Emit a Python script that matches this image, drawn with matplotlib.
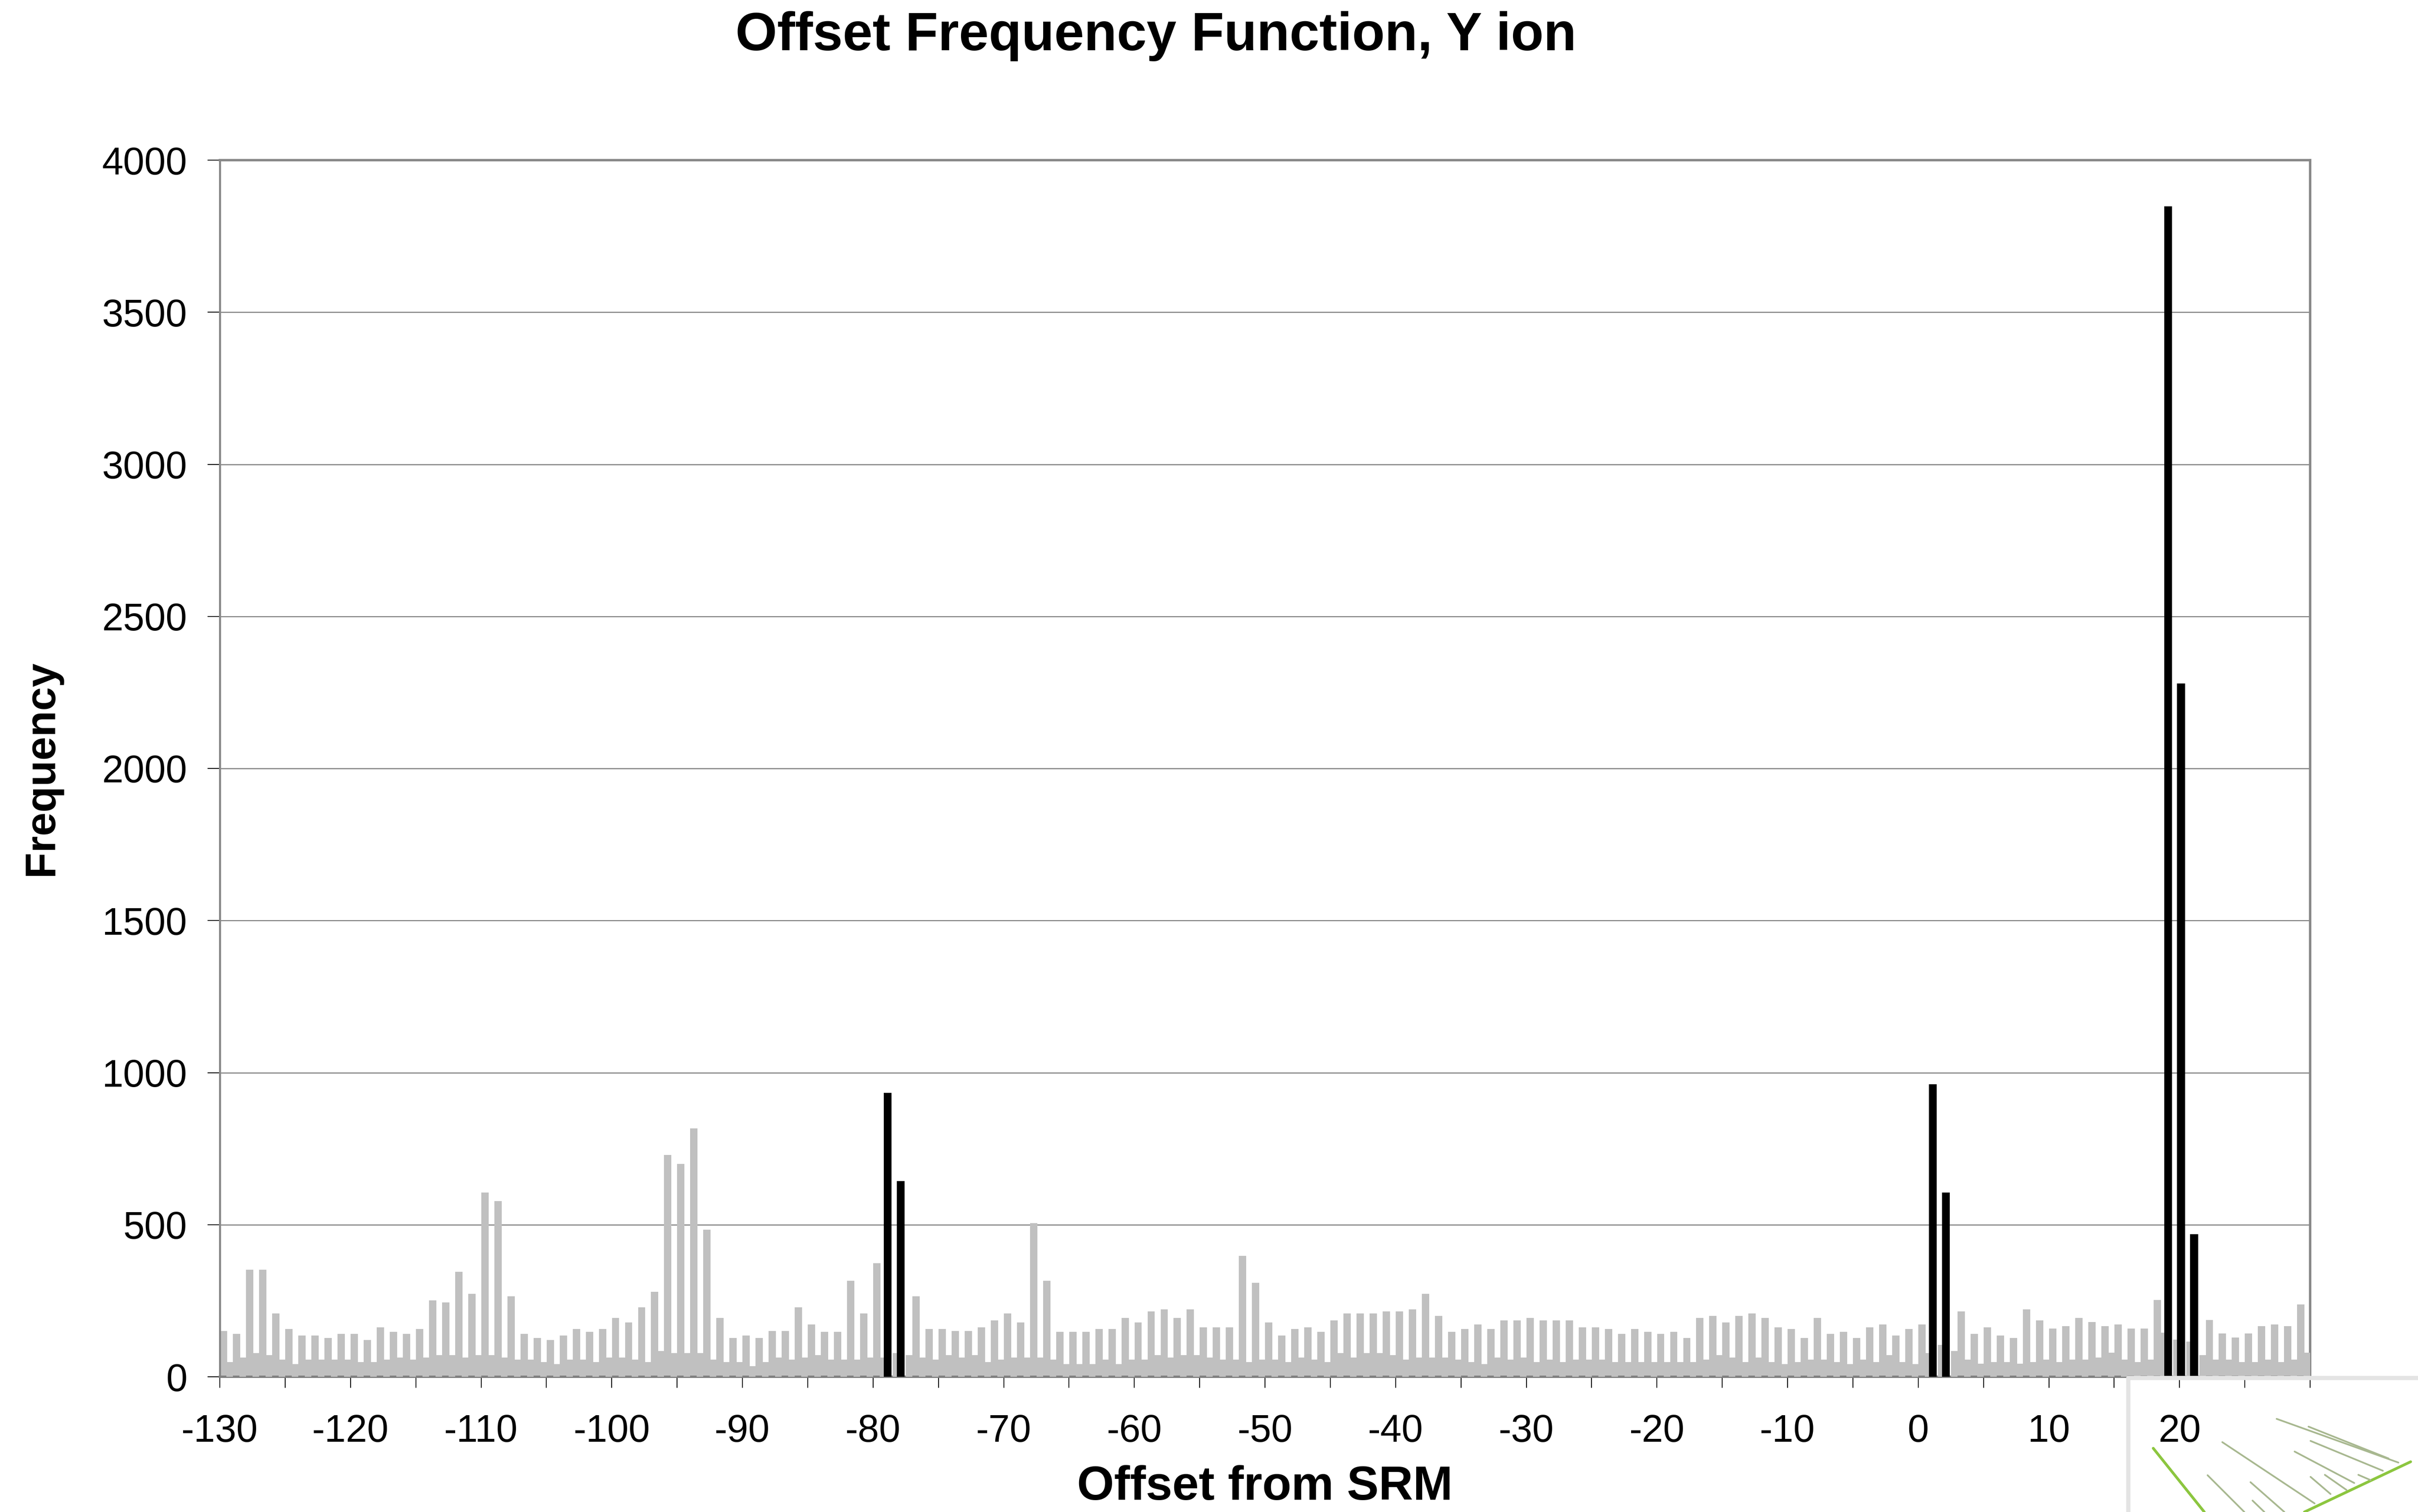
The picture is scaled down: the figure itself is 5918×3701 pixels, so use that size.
import numpy as np
import matplotlib
matplotlib.use("Agg")
import matplotlib.pyplot as plt
from matplotlib.lines import Line2D

plt.rcParams['font.family'] = ['Liberation Sans', 'DejaVu Sans']

# ---------------------------------------------------------------------------
# data
# ---------------------------------------------------------------------------
offsets = list(range(-130, 30))

# observed frequency for each offset
observed = [
    150, 141, 352, 352, 208, 157, 135, 135, 128, 141, 141, 121, 163, 148, 141, 157,
    251, 244, 345, 273, 606, 578, 265, 141, 128, 121, 135, 157, 148, 157, 193, 179,
    229, 279, 730, 700, 816,
    483, 193, 128, 135, 128, 150, 150, 229, 172, 148, 148, 316, 208, 374, 933, 644,
    265, 157, 157, 150, 150, 163, 185, 208, 179, 505, 316, 148, 148, 148, 157, 157,
    193, 179,
    215, 222, 193, 222, 163, 163, 163, 397, 309, 179, 135, 157, 163, 148, 185, 208,
    208, 208, 215, 215, 222, 273, 200, 148, 157, 172, 157, 185, 185, 193, 185, 185,
    185, 163, 163,
    157, 141, 157, 148, 141, 148, 128, 193, 200, 179, 200, 208, 193, 163, 157, 128,
    193, 141, 148, 128, 163, 172, 135, 157, 172,
    962, 606,
    215, 141, 163, 135, 128, 222, 185, 158, 166, 194, 180, 166, 172, 158, 158, 252,
    3848, 2280, 469,
    187, 143, 129, 143, 166, 172, 166, 238,
]

# background (random) frequency for each offset
background = [
    48, 63, 78, 71, 56, 41, 56, 56, 56, 56, 48, 48, 56, 63, 56, 63, 71, 71, 63, 71,
    71, 63, 56, 56, 48, 41, 56, 56, 48, 63, 63, 56, 48, 84, 78, 78, 78,
    56, 48, 48, 35, 48, 63, 56, 63, 71, 56, 56, 56, 63, 63, 78, 71, 63, 56, 71, 63,
    71, 48, 56, 63, 63, 63, 56, 41, 41, 41, 56, 41, 56,
    56, 71, 63, 71, 71, 63, 56, 56, 48, 56, 56, 48, 63, 56, 48, 78, 63, 78, 78, 71,
    56, 63, 63, 63, 56, 48, 41, 63, 56, 63, 48, 56, 48, 56, 56,
    56, 48, 48, 48, 48, 48, 48, 48, 56, 71, 63, 48, 63, 48, 41, 48, 56, 56, 48, 41,
    56, 48, 71, 48, 41, 78, 105, 84,
    57, 43, 49, 49, 43, 49, 57, 49, 57, 57, 63, 79, 57, 49, 57, 145, 122, 115, 71,
    57, 57, 49, 49, 57, 49, 57, 79,
]

# offsets drawn in black (significant peaks)
highlighted = [-79, -78, 1, 2, 19, 20, 21]

x_labels = list(range(-130, 21, 10))
y_ticks = list(range(0, 4001, 500))

# ---------------------------------------------------------------------------
# figure
# ---------------------------------------------------------------------------
fig = plt.figure(figsize=(5918 / 300, 3701 / 300), dpi=300)
ax = fig.add_axes([538 / 5918, 1 - 3370 / 3701, (5654 - 538) / 5918, (3370 - 392) / 3701])

x = np.array(offsets, dtype=float)
obs = np.array(observed, dtype=float)
bg = np.array(background, dtype=float)
is_hi = np.isin(x, highlighted)

gray = '#C0C0C0'
ax.bar(x[~is_hi] + 0.29, obs[~is_hi], width=0.56, color=gray, edgecolor='none', zorder=2)
ax.bar(x + 0.76, bg, width=0.5, color=gray, edgecolor='none', zorder=3)
ax.bar(x[is_hi] + 0.12, obs[is_hi], width=0.6, color='black', edgecolor='none', zorder=4)

ax.set_xlim(-130, 30)
ax.set_ylim(0, 4000)

ax.set_yticks(y_ticks)
ax.set_xticks(np.arange(-130, 31, 5))
ax.set_xticklabels([str(v) if v in x_labels else '' for v in range(-130, 31, 5)])

ax.yaxis.grid(True, color='#7a7a7a', linewidth=0.6, zorder=0)
ax.set_axisbelow(True)

ax.tick_params(axis='x', direction='out', length=6.5, width=0.5, pad=15,
               labelsize=22.5, color='black')
ax.tick_params(axis='y', direction='out', length=7.2, width=0.5, pad=12,
               labelsize=22.5, color='black')

for side in ['top', 'right']:
    ax.spines[side].set_color('#888888')
    ax.spines[side].set_linewidth(1.4)
ax.spines['left'].set_color('#888888')
ax.spines['left'].set_linewidth(1.2)
ax.spines['bottom'].set_color('#808080')
ax.spines['bottom'].set_linewidth(1.4)

fig.text(3096 / 5918, 1 - 3640 / 3701, 'Offset from SRM', fontsize=28,
         fontweight='bold', ha='center', va='center')
fig.text(102 / 5918, 1 - 1880 / 3701, 'Frequency', fontsize=25,
         fontweight='bold', ha='center', va='center', rotation=90)
fig.text(0.478, 0.976, 'Offset Frequency Function, Y ion', fontsize=31.5,
         fontweight='bold', ha='center', va='center')


# small decorative logo in the lower right corner
def fl(x0, y0, x1, y1, color, lw):
    fig.add_artist(Line2D([x0 / 5918, x1 / 5918], [1 - y0 / 3701, 1 - y1 / 3701],
                          color=color, linewidth=lw, solid_capstyle='round'))


fl(5209, 3373, 5209, 3701, '#e4e4e4', 2.5)
fl(5209, 3373, 5918, 3373, '#e4e4e4', 2.5)
fl(5270, 3545, 5395, 3701, '#8cc63f', 1.6)
fl(5640, 3701, 5900, 3578, '#8cc63f', 1.6)
for seg in [(5439, 3530, 5665, 3680), (5572, 3473, 5870, 3580), (5650, 3492, 5846, 3570),
            (5655, 3527, 5832, 3600), (5616, 3553, 5762, 3630), (5403, 3611, 5493, 3701),
            (5508, 3628, 5591, 3701), (5513, 3673, 5542, 3701), (5655, 3615, 5704, 3657),
            (5690, 3610, 5743, 3647), (5772, 3610, 5802, 3623)]:
    fl(*seg, '#a8b890', 1.0)

fig.savefig('out.png', dpi=300, facecolor='white')
